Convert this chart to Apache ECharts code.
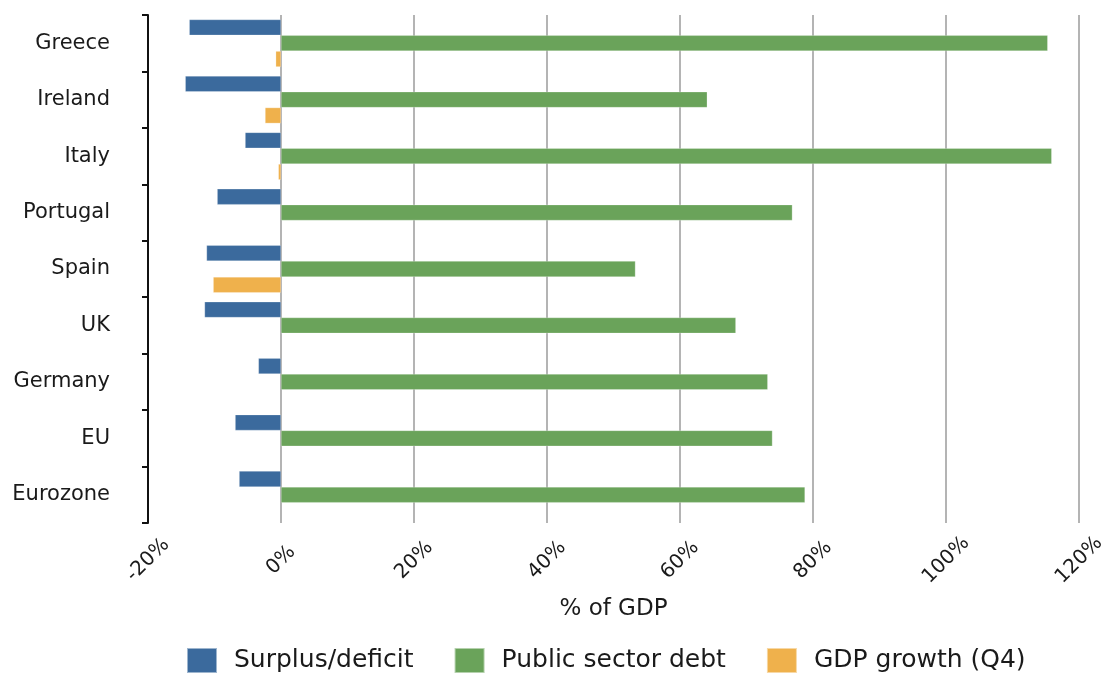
<!DOCTYPE html>
<html>
<head>
<meta charset="utf-8">
<style>
  html, body { margin: 0; padding: 0; background: #fff; }
  #chart { width: 1110px; height: 675px; }
</style>
<script src="https://cdn.jsdelivr.net/npm/echarts@6/dist/echarts.min.js"></script>
</head>
<body>
<div id="chart"></div>
<script>
// 国家 / 地区
const countries = ['Greece', 'Ireland', 'Italy', 'Portugal', 'Spain', 'UK', 'Germany', 'EU', 'Eurozone'];
// % of GDP
const surplusDeficit = [-13.8, -14.4, -5.4, -9.6, -11.2, -11.5, -3.4, -6.9, -6.3];
const publicDebt = [115.3, 64.1, 115.9, 76.9, 53.3, 68.4, 73.2, 73.9, 78.8];
const gdpGrowth = [-0.8, -2.4, -0.4, null, -10.2, null, null, null, null];
const xTicks = { min: -20, max: 120, interval: 20 };

const font = 'DejaVu Sans';
const chart = echarts.init(document.getElementById('chart'));

const barStyle = (color) => ({
    color: color,
    borderColor: 'rgba(255,255,255,0.5)',
    borderWidth: 0.5,
});

chart.setOption({
    animation: false,
    textStyle: { fontFamily: font },
    grid: { left: 148, right: 31, top: 15, bottom: 152, containLabel: false },
    legend: {
        left: 181,
        top: 642,
        icon: 'rect',
        itemWidth: 30,
        itemHeight: 25,
        itemGap: 40,
        textStyle: { fontFamily: font, fontSize: 25, color: '#1a1a1a', padding: [0, 0, 0, 12] },
        data: ['Surplus/deficit', 'Public sector debt', 'GDP growth (Q4)'],
    },
    xAxis: {
        type: 'value',
        min: xTicks.min,
        max: xTicks.max,
        interval: xTicks.interval,
        name: '% of GDP',
        nameLocation: 'middle',
        nameGap: 75,
        nameTextStyle: { fontFamily: font, fontSize: 23, color: '#1a1a1a' },
        axisLine: { show: false },
        axisTick: { show: false },
        axisLabel: {
            rotate: 45,
            margin: 37,
            align: 'center',
            verticalAlign: 'middle',
            fontSize: 20,
            color: '#1a1a1a',
            formatter: '{value}%',
        },
        splitLine: { show: true, lineStyle: { color: '#b4b4b4', width: 2 } },
    },
    yAxis: {
        type: 'category',
        inverse: true,
        data: countries,
        axisLine: { show: true, onZero: false, lineStyle: { color: '#111', width: 2 } },
        axisTick: { show: true, length: 6, lineStyle: { color: '#111', width: 2 } },
        axisLabel: { fontSize: 21, color: '#1a1a1a', margin: 38 },
        splitLine: { show: false },
    },
    series: [
        {
            name: 'Surplus/deficit',
            type: 'bar',
            data: surplusDeficit,
            barGap: '0%',
            barCategoryGap: '16%',
            itemStyle: barStyle('#3b6a9d'),
        },
        {
            name: 'Public sector debt',
            type: 'bar',
            data: publicDebt,
            itemStyle: barStyle('#6aa35a'),
        },
        {
            name: 'GDP growth (Q4)',
            type: 'bar',
            data: gdpGrowth,
            itemStyle: barStyle('#efb14c'),
        },
    ],
});
</script>
</body>
</html>
